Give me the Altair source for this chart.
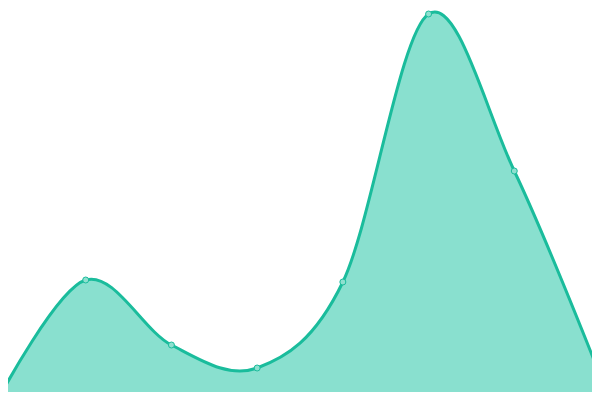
import altair as alt
import pandas as pd

xs = [0, 1, 2, 3, 4, 5, 6, 7]
ys = [1, 30, 13.75, 8, 29.5, 96.5, 57.25, 6.25]

df = pd.DataFrame({"x": xs, "y": ys})

# plot area sits 8px inside the page; ranges are widened so the data spans the full 600x400 window
xsc = alt.Scale(domain=[0, 7], nice=False, zero=False, range=[-8, 592])
ysc = alt.Scale(domain=[0, 100], nice=False, range=[392, -8])

base = alt.Chart(df).encode(
    x=alt.X("x:Q", scale=xsc, axis=None),
    y=alt.Y("y:Q", scale=ysc, axis=None),
)

area = base.mark_area(interpolate="cardinal", color="#89e0cf", opacity=1, clip=False)
line = base.mark_line(interpolate="cardinal", color="#1abc9c", strokeWidth=3, clip=False)
pts = base.mark_point(filled=True, size=36, fill="#8ee0cf", stroke="#1abc9c", strokeWidth=1, opacity=1, clip=False)

chart = (area + line + pts).properties(
    width=584, height=384,
    padding=0,
    autosize=alt.AutoSizeParams(type="none"),
).configure_view(stroke=None)

chart.save("out.html", embed_options={"renderer": "svg", "actions": False})
